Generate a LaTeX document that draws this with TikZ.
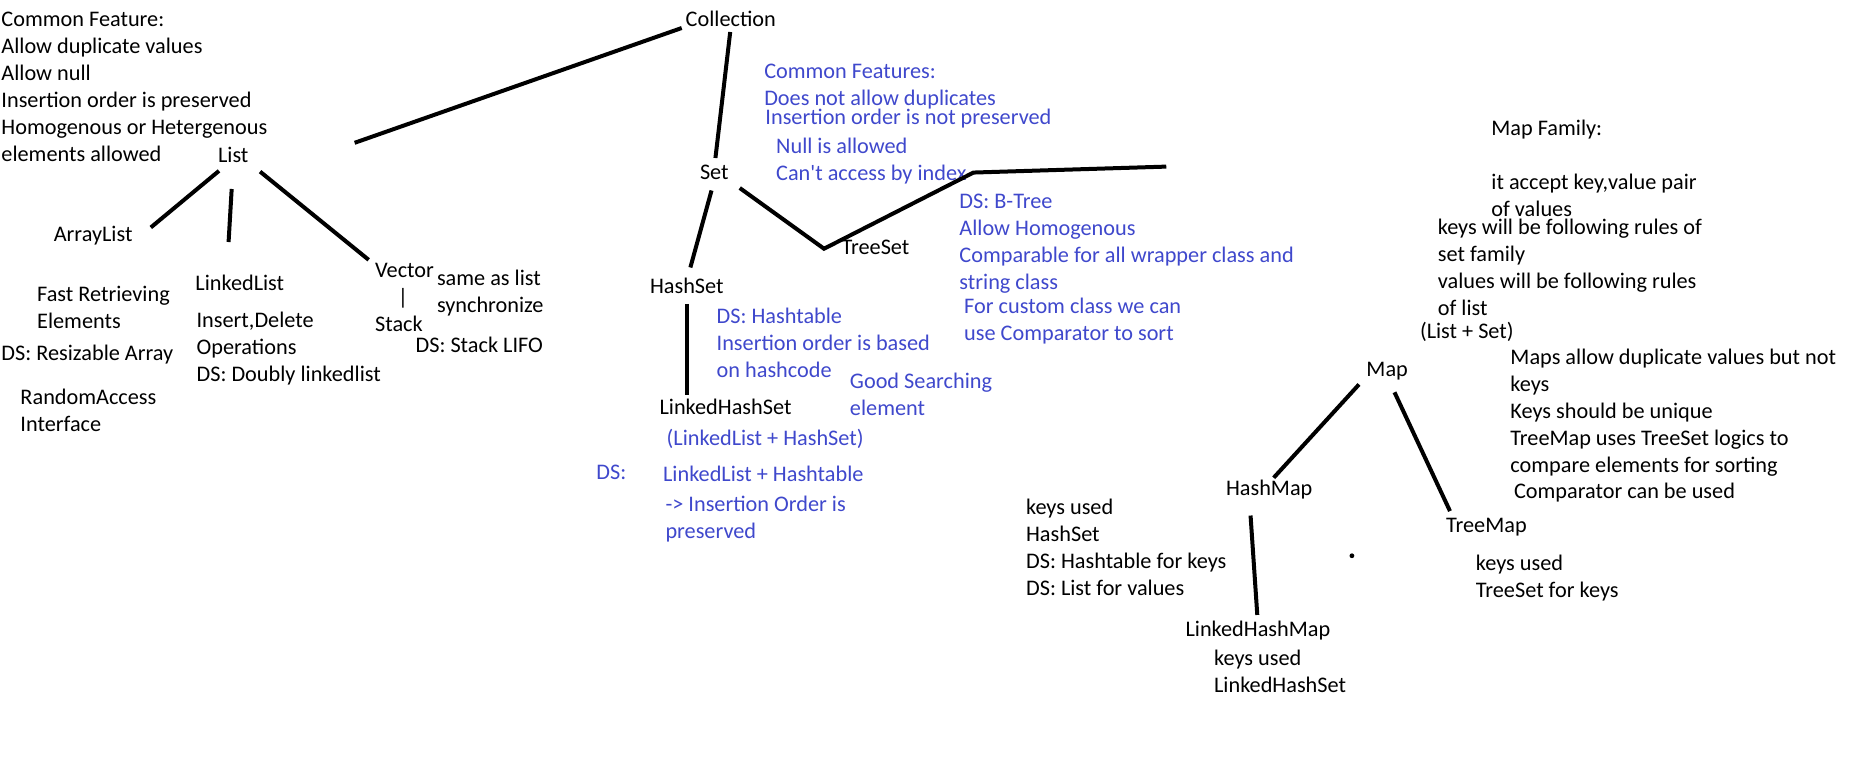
\documentclass[tikz,border=0pt]{standalone}
\usepackage{fontspec}
\setmainfont{Carlito}
\definecolor{ink}{RGB}{0,0,0}
\definecolor{indigo}{RGB}{63,72,204}
\newcommand{\notefont}{\fontsize{16.7pt}{20pt}\selectfont}
\newcommand{\notes}[5]{%
  \foreach \row [count=\k] in {#5}
    \node[note,text=#4] (#1-\k) at (#2,{#3+(\k-1)*22.7}) {\row};%
}
\tikzset{
  note/.style={anchor=west,inner sep=0pt,text height=9.3pt,text depth=0pt,font=\notefont},
  cls/.style={note,text=ink},
  link/.style={draw=ink,line width=3pt}
}

\begin{document}
\begin{tikzpicture}[x=0.8925pt,y=-0.8925pt]
  \useasboundingbox (0,0) rectangle (1568,646);
  \node[cls] (coll) at (576,17) {Collection};
  \node[cls] (list) at (183,131) {List};
  \node[cls] (alist) at (45,198) {ArrayList};
  \node[cls] (llist) at (164,239) {LinkedList};
  \node[cls] (vector) at (315,228) {Vector};
  \node[cls] (bar) at (334,251) {|};
  \node[cls] (stack) at (315,273) {Stack};
  \node[cls] (set) at (588,146) {Set};
  \node[cls] (hset) at (546,241) {HashSet};
  \node[cls] (tset) at (707,209) {TreeSet};
  \node[cls] (lhset) at (554,343) {LinkedHashSet};
  \node[cls] (map) at (1148,311) {Map};
  \node[cls] (hmap) at (1030,411) {HashMap};
  \node[cls] (tmap) at (1215,442) {TreeMap};
  \node[cls] (lhmap) at (996,530) {LinkedHashMap};

  \notes{listn}{1}{17}{ink}{Common Feature:,Allow duplicate values,Allow null,Insertion order is preserved,Homogenous or Hetergenous,elements allowed}
  \notes{aln}{31}{248}{ink}{Fast Retrieving,Elements}
  \notes{alds}{1}{298}{ink}{DS: Resizable Array}
  \notes{alra}{17}{335}{ink}{RandomAccess,Interface}
  \notes{lln}{165}{270}{ink}{{Insert,Delete},Operations,DS: Doubly linkedlist}
  \notes{vecn}{367}{235}{ink}{same as list,synchronize}
  \notes{stkds}{349}{291}{ink}{DS: Stack LIFO}

  \notes{setn}{642}{61}{indigo}{Common Features:,Does not allow duplicates}
  \notes{setord}{643}{99}{indigo}{Insertion order is not preserved}
  \notes{setnull}{652}{124}{indigo}{Null is allowed,Can\textquotesingle t access by index}
  \notes{tsn}{806}{170}{indigo}{DS: B-Tree,Allow Homogenous,Comparable for all wrapper class and,string class}
  \notes{tscmp}{810}{258}{indigo}{For custom class we can,use Comparator to sort}
  \notes{hsn}{602}{267}{indigo}{DS: Hashtable,Insertion order is based,on hashcode}
  \notes{hsgood}{714}{321}{indigo}{Good Searching,element}
  \notes{lhsn}{560}{369}{indigo}{(LinkedList + HashSet)}
  \notes{lhsds}{501}{398}{indigo}{DS:}
  \notes{lhsdt}{557}{399}{indigo}{LinkedList + Hashtable}
  \notes{lhsord}{559}{425}{indigo}{-> Insertion Order is,preserved}

  \notes{mapfam}{1253}{109}{ink}{Map Family:}
  \notes{mapacc}{1253}{154}{ink}{{it accept key,value pair},of values}
  \notes{maprule}{1208}{192}{ink}{keys will be following rules of,set family,values will be following rules,of list}
  \notes{mapls}{1193}{279}{ink}{(List + Set)}
  \notes{mapdup}{1269}{301}{ink}{Maps allow duplicate values but not,keys,Keys should be unique,TreeMap uses TreeSet logics to,compare elements for sorting}
  \notes{mapcmp}{1272}{414}{ink}{Comparator can be used}
  \notes{hmn}{862}{427}{ink}{keys used,HashSet,DS: Hashtable for keys,DS: List for values}
  \notes{tmn}{1240}{474}{ink}{keys used,TreeSet for keys}
  \notes{lhmn}{1020}{554}{ink}{keys used,LinkedHashSet}

  \coordinate (list-end) at (298,120);
  \coordinate (ts-kink) at (818,145);
  \coordinate (ts-end) at (980,140);
  \draw[link,shorten <=3pt] (coll.south west) -- (list-end);
  \draw[link,shorten <=10pt,shorten >=2pt] ([xshift=-3pt]list.south) -- ([xshift=12pt]alist.north east);
  \draw[link,shorten <=20pt,shorten >=27pt] (list.south) -- ([xshift=-10pt]llist.north);
  \draw[link,shorten <=11pt,shorten >=6pt] (list.south east) -- (vector.north west);
  \draw[link,shorten <=4pt,shorten >=7pt] (coll.south) -- (set.north);
  \draw[link,shorten <=8pt,shorten >=10pt] (set.south) -- (hset.north);
  \draw[link,shorten <=10pt] (set.south east) -- ([xshift=-13pt]tset.west) -- (ts-kink) -- (ts-end);
  \draw[link,shorten <=8pt,shorten >=5pt] (hset.south) -- (hset.south |- lhset.north);
  \draw[link,shorten <=8pt,shorten >=5pt] (map.south west) -- (hmap.north);
  \draw[link,shorten <=13pt,shorten >=7pt] (map.south) -- ([xshift=6pt]tmap.north west);
  \draw[link,shorten <=15pt,shorten >=7pt] ([xshift=-15pt]hmap.south) -- (lhmap.north);
  \fill[ink] (1136,467) circle (1.8pt);
\end{tikzpicture}
\end{document}
